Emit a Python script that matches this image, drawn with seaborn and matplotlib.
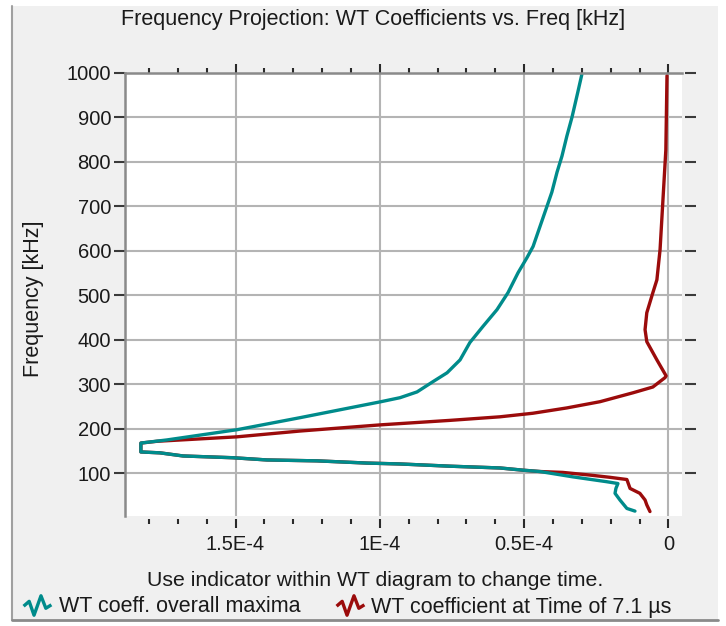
import matplotlib
matplotlib.use("Agg")
import matplotlib.pyplot as plt
from matplotlib.lines import Line2D
from matplotlib.patches import Rectangle
from matplotlib.path import Path
from matplotlib.ticker import MultipleLocator
import pandas as pd
import seaborn as sns

# coefficient values are stored in units of 1e-5
COEF_UNIT = 1e-5

# WT coeff. overall maxima (teal)
max_freq_khz = [15, 21, 40, 55, 66, 77, 81, 92, 104, 107,
                112, 116, 121, 123, 128, 130, 135, 139, 146, 148,
                168, 175, 198, 225, 261, 270, 283, 306, 326, 355,
                394, 430, 468, 506, 551, 585, 610, 655, 700, 732,
                777, 813, 858, 901, 957, 997]
max_coef = [1.16, 1.44, 1.68, 1.85, 1.82, 1.75, 2.13, 3.31, 4.45, 5.04,
            5.84, 7.57, 9.30, 10.45, 12.18, 13.91, 15.09, 16.82, 17.62, 18.28,
            18.28, 17.38, 14.95, 12.77, 9.96, 9.30, 8.71, 8.16, 7.67, 7.22,
            6.88, 6.43, 5.94, 5.56, 5.21, 4.90, 4.69, 4.45, 4.21, 4.04,
            3.86, 3.69, 3.52, 3.34, 3.14, 3.00]

# WT coefficient at time 7.1 us (dark red), mostly hidden under the teal
# curve between 104 and 172 kHz
t71_freq_khz = [14, 29, 40, 55, 66, 86, 91, 96, 102, 104,
                107, 112, 116, 121, 123, 128, 130, 135, 139, 146,
                148, 168, 172, 182, 195, 209, 219, 227, 235, 247,
                261, 281, 294, 315, 319, 355, 396, 423, 461, 506,
                535, 603, 715, 827, 994]
t71_coef = [0.64, 0.75, 0.81, 0.99, 1.33, 1.44, 2.03, 2.72, 3.66, 4.45,
            5.04, 5.84, 7.57, 9.30, 10.45, 12.18, 13.91, 15.09, 16.82, 17.62,
            18.28, 18.28, 17.72, 14.95, 12.77, 9.96, 7.57, 5.84, 4.70, 3.52,
            2.37, 1.23, 0.54, 0.12, 0.08, 0.40, 0.75, 0.81, 0.75, 0.54,
            0.40, 0.29, 0.19, 0.09, 0.05]

x_tick_vals = [0, 5, 10, 15]
x_tick_labels = ["0", "0.5E-4", "1E-4", "1.5E-4"]
y_ticks = [100, 200, 300, 400, 500, 600, 700, 800, 900, 1000]

label_max = "WT coeff. overall maxima"
label_t71 = "WT coefficient at Time of 7.1 µs"
title = "Frequency Projection: WT Coefficients vs. Freq [kHz]"
hint = "Use indicator within WT diagram to change time."

TEAL = "#008b8b"
DARKRED = "#9b0b0b"

df = pd.concat([
    pd.DataFrame({"freq": t71_freq_khz, "coef": t71_coef, "series": label_t71}),
    pd.DataFrame({"freq": max_freq_khz, "coef": max_coef, "series": label_max}),
], ignore_index=True)
df["coef"] = df["coef"] * COEF_UNIT

sns.set_theme(style="white")
plt.rcParams["font.family"] = ["Liberation Sans", "DejaVu Sans"]
plt.rcParams["text.color"] = "#1a1a1a"

W, H = 726, 626
fig = plt.figure(figsize=(W / 100, H / 100), dpi=100)
fig.patch.set_facecolor("white")
# grey panel behind everything, like the original window
fig.add_artist(Rectangle((12 / W, 6 / H), 706 / W, 614 / H, transform=fig.transFigure,
                         facecolor="#f0f0f0", edgecolor="none", zorder=-10))
fig.add_artist(Line2D([12 / W, 12 / W], [6 / H, 620 / H], color="#a0a0a0", lw=1.5))
fig.add_artist(Line2D([12 / W, 718 / W], [6 / H, 6 / H], color="#8a8a8a", lw=2))

ax = fig.add_axes([125 / W, 110 / H, 557 / W, 443 / H])
ax.set_facecolor("white")

sns.lineplot(data=df, x="coef", y="freq", hue="series", hue_order=[label_t71, label_max],
             palette=[DARKRED, TEAL], sort=False, estimator=None, lw=2.4,
             legend=False, ax=ax)

ax.set_xlim(18.83 * COEF_UNIT, -0.47 * COEF_UNIT)
ax.set_ylim(4, 1000)
ax.set_xticks([v * COEF_UNIT for v in x_tick_vals], x_tick_labels)
ax.xaxis.set_minor_locator(MultipleLocator(COEF_UNIT))
ax.set_yticks(y_ticks)
ax.grid(True, which="major", color="#b4b4b4", lw=1.5)
ax.set_axisbelow(True)

ax.set_xlabel("")
ax.set_ylabel("Frequency [kHz]", fontsize=15.5, color="#1a1a1a")
ax.yaxis.set_label_coords(-0.146, 0.49)

for side in ["left", "top"]:
    ax.spines[side].set_color("#8a8a8a")
    ax.spines[side].set_linewidth(1.8)
for side in ["bottom", "right"]:
    ax.spines[side].set_position(("outward", 2.2))
    ax.spines[side].set_visible(False)

ax.tick_params(axis="y", which="major", left=True, right=True, direction="out",
               length=8, width=1.5, color="#3a3a3a", labelsize=14.5,
               labelcolor="#1a1a1a", pad=2)
ax.tick_params(axis="x", which="major", bottom=True, top=True, direction="out",
               length=6.5, width=1.5, color="#2a2a2a", labelsize=14.5,
               labelcolor="#1a1a1a", pad=5)
ax.tick_params(axis="x", which="minor", bottom=True, top=True, direction="out",
               length=3.8, width=1.5, color="#2a2a2a")

fig.text(373 / W, 1 - 20 / H, title, ha="center", va="center", fontsize=15.5)
fig.text(375 / W, 1 - 580 / H, hint, ha="center", va="center", fontsize=15.3)

# little wave icons used as legend symbols
wave = Path([(-1.0, -0.05), (-0.6, 0.3), (-0.25, -0.7), (0.25, 0.7), (0.6, -0.2), (1.0, 0.05)])
handles = [
    Line2D([], [], ls="", marker=wave, markersize=20, markeredgewidth=2.4,
           markerfacecolor="none", color=TEAL),
    Line2D([], [], ls="", marker=wave, markersize=20, markeredgewidth=2.4,
           markerfacecolor="none", color=DARKRED),
]
fig.legend(handles, [label_max, label_t71], loc="center left",
           bbox_to_anchor=(22 / W, 1 - 607 / H), ncol=2, frameon=False,
           fontsize=15.5, handlelength=1.4, handletextpad=0.3,
           columnspacing=1.6, borderaxespad=0, borderpad=0)

fig.savefig("out.png", dpi=100)
